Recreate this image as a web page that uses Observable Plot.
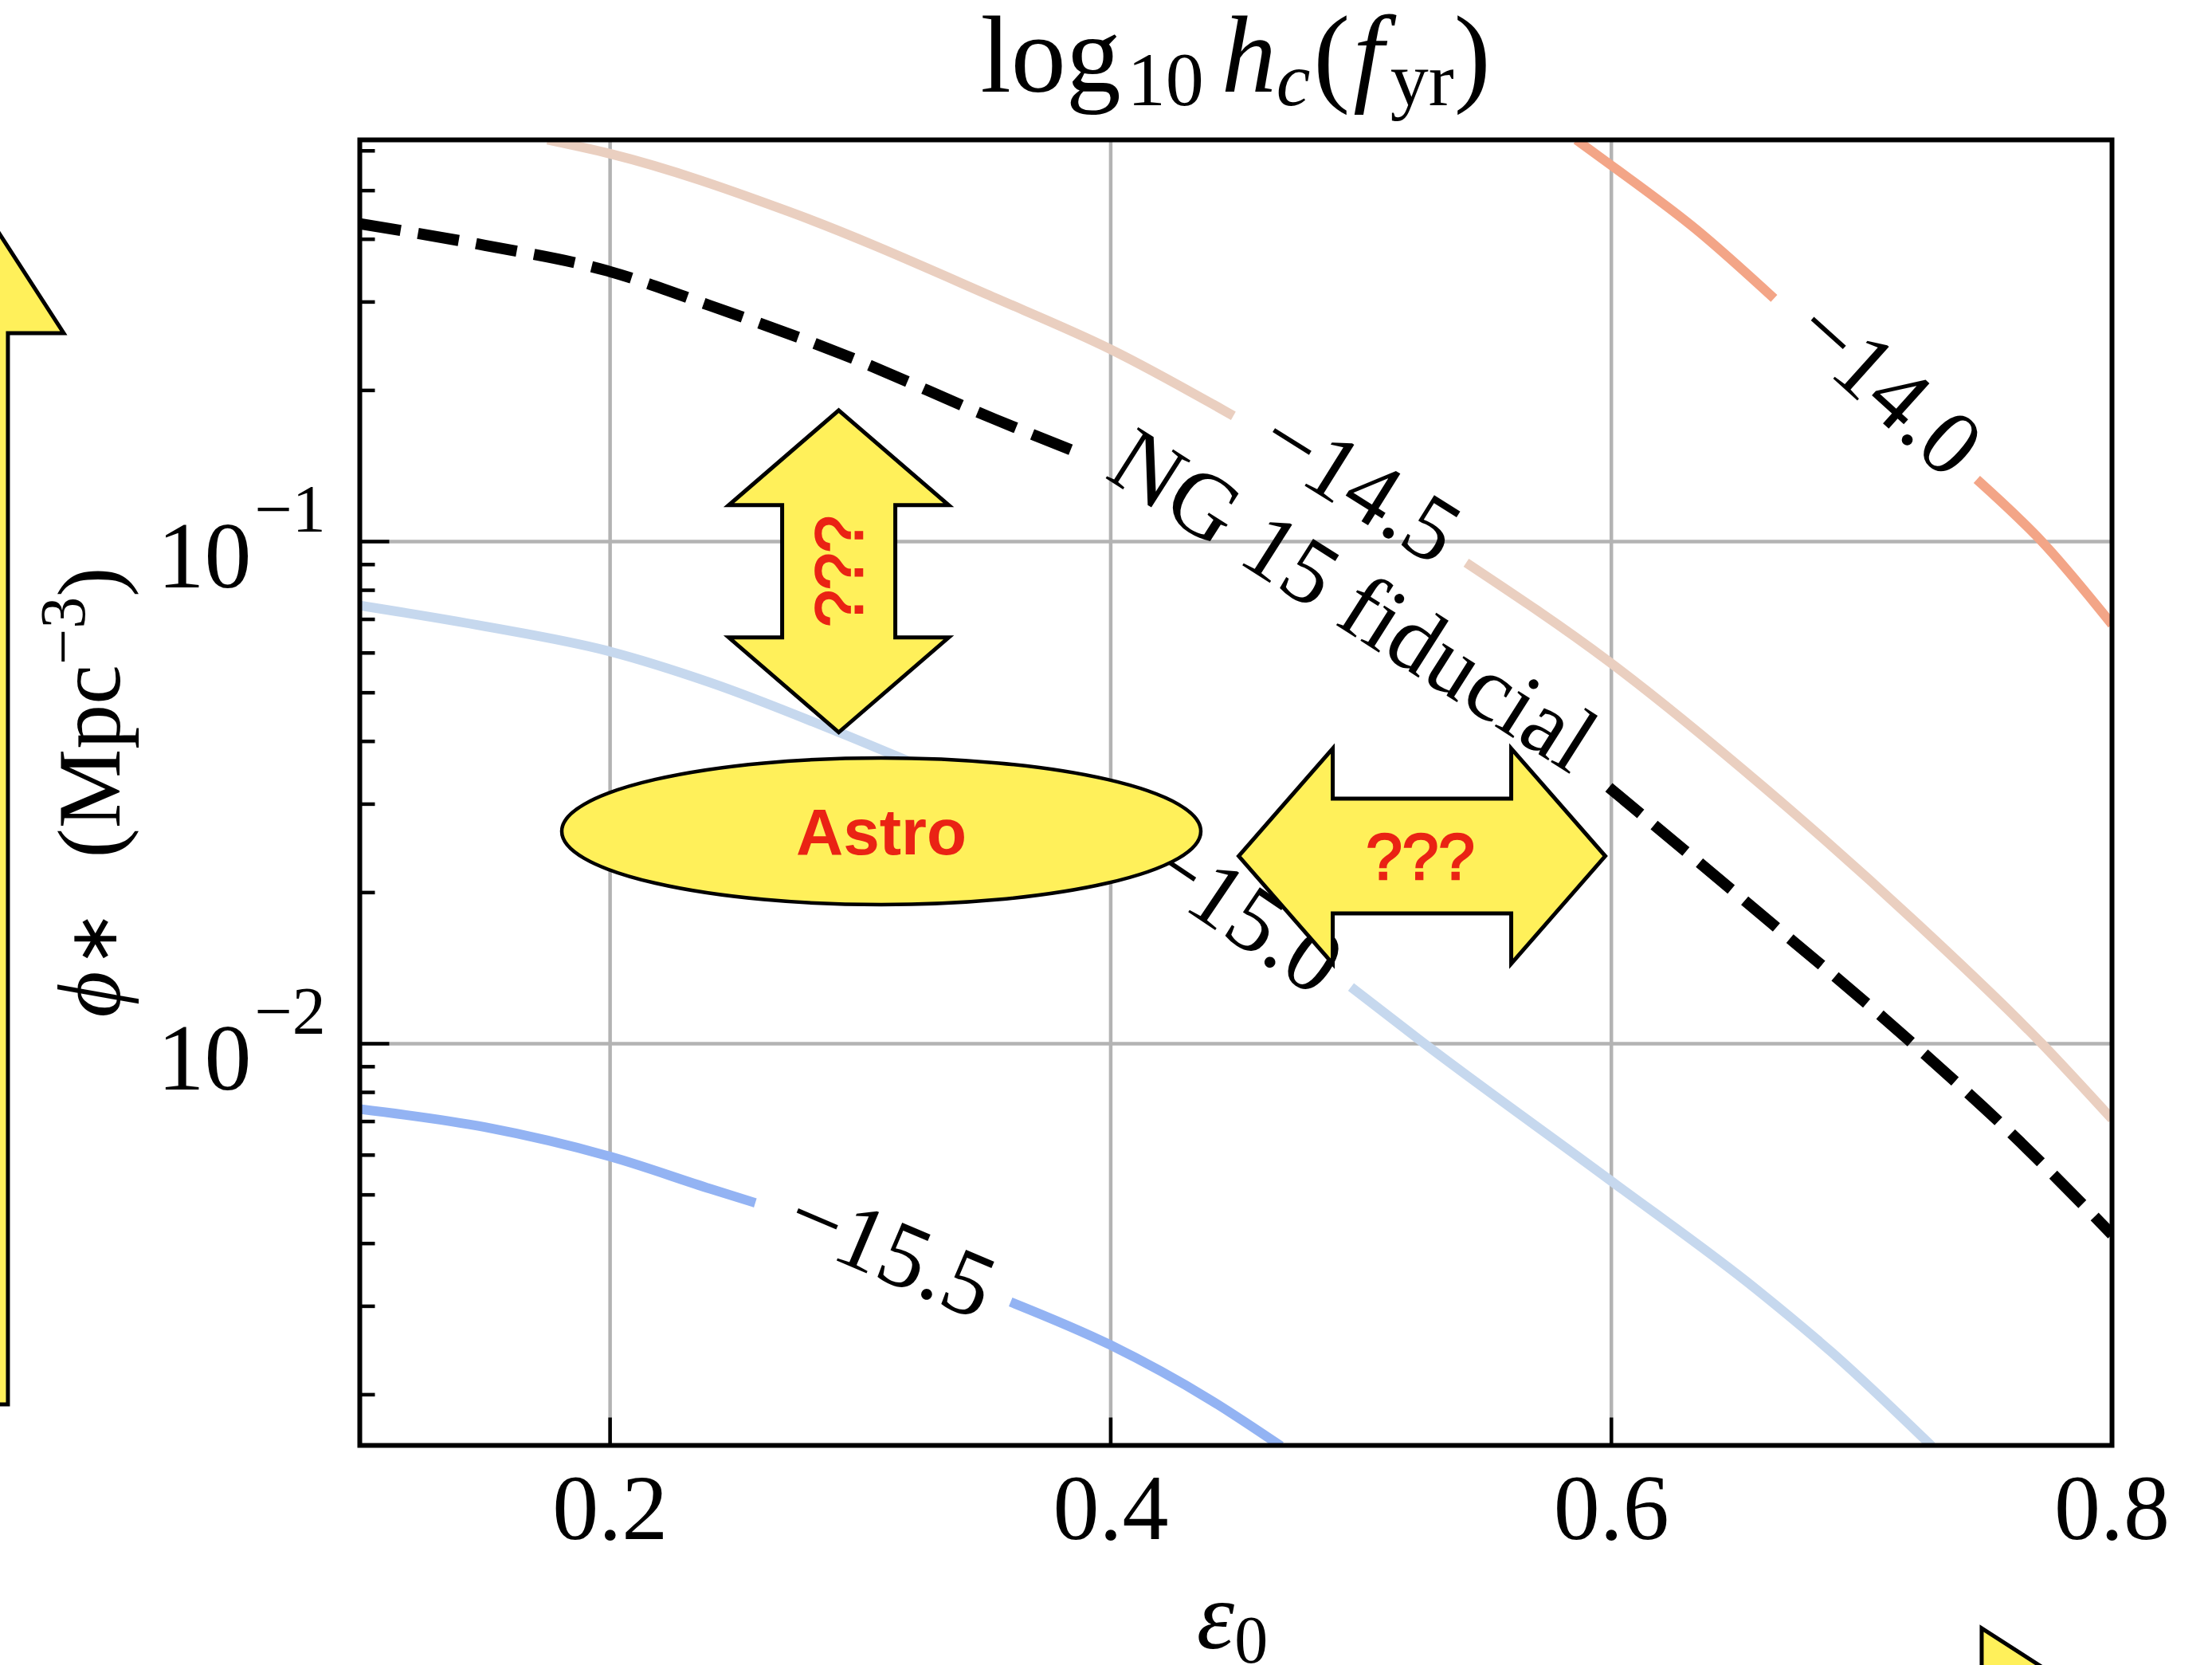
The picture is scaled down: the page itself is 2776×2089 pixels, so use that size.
<!DOCTYPE html>
<html><head><meta charset="utf-8">
<script src="https://cdn.jsdelivr.net/npm/d3@7"></script>
<script src="https://cdn.jsdelivr.net/npm/@observablehq/plot@0.6"></script>
<style>
html,body{margin:0;padding:0;background:#fff;}
#chart svg{display:block;}
</style></head><body><div id="chart"></div>
<script>
// ---------- data (ε0, φ*) ----------
// contour −14.0 (before / after its label)
const c140_epsA = [0.586, 0.599, 0.634, 0.665];
const c140_phiA = [0.631, 0.566, 0.418, 0.305];
const c140_epsB = [0.746, 0.772, 0.800];
const c140_phiB = [0.133, 0.100, 0.0684];
// contour −14.5
const c145_epsA = [0.175, 0.200, 0.272, 0.354, 0.400, 0.449];
const c145_phiA = [0.631, 0.592, 0.453, 0.3055, 0.2415, 0.178];
const c145_epsB = [0.542, 0.599, 0.661, 0.722, 0.772, 0.800];
const c145_phiB = [0.0908, 0.0577, 0.0324, 0.01738, 0.0100, 0.00708];
// contour −15.0
const c150_epsA = [0.100, 0.150, 0.200, 0.240, 0.292, 0.330, 0.370, 0.400, 0.421];
const c150_phiA = [0.0746, 0.0678, 0.0604, 0.0524, 0.0416, 0.0347, 0.0288, 0.0257, 0.0232];
const c150_epsB = [0.496, 0.524, 0.599, 0.658, 0.688, 0.728];
const c150_phiB = [0.01297, 0.01012, 0.00537, 0.00324, 0.00243, 0.00158];
// contour −15.5
const c155_epsA = [0.100, 0.150, 0.200, 0.240, 0.258];
const c155_phiA = [0.00741, 0.00682, 0.00596, 0.00514, 0.00482];
const c155_epsB = [0.360, 0.400, 0.440, 0.468];
const c155_phiB = [0.00306, 0.00251, 0.00195, 0.00158];
// NG 15 fiducial (dashed)
const ng_epsA = [0.100, 0.150, 0.199, 0.240, 0.292, 0.354, 0.388];
const ng_phiA = [0.4295, 0.389, 0.346, 0.295, 0.237, 0.175, 0.1496];
const ng_epsB = [0.599, 0.658, 0.7205, 0.760, 0.800];
const ng_phiB = [0.0324, 0.01841, 0.0100, 0.00661, 0.00417];

// contour labels
const labelTexts = ["−14.0", "−14.5", "−15.0", "−15.5", "NG 15 fiducial"];
const labelEps   = [0.7104, 0.4996, 0.4530, 0.3123, 0.4968];
const labelPhi   = [0.2023, 0.1294, 0.01816, 0.003855, 0.0762];
const labelAngle = [42, 32, 34, 23, 32.5];

// ticks
const xTickValues = [0.2, 0.4, 0.6, 0.8];
const xTickLabels = ["0.2", "0.4", "0.6", "0.8"];
const yMajorValues = [0.1, 0.01];
const yMajorExponents = ["−1", "−2"];

// annotation anchors (ε0, φ*)
const noteVArrow = [0.2915, 0.0871];
const noteEllipse = [0.3085, 0.02644];
const noteHArrow = [0.5245, 0.0236];
const noteLeftArrow = [-0.0404, 0.00191];
const noteCornerArrow = [0.7481, 0.000684];

// ---------- build tables ----------
function seg(level, part, eps, phi) { return eps.map((e, i) => ({level, seg: level + part, eps: e, phi: phi[i]})); }
const rows140 = [...seg("-14.0", "A", c140_epsA, c140_phiA), ...seg("-14.0", "B", c140_epsB, c140_phiB)];
const rows145 = [...seg("-14.5", "A", c145_epsA, c145_phiA), ...seg("-14.5", "B", c145_epsB, c145_phiB)];
const rows150 = [...seg("-15.0", "A", c150_epsA, c150_phiA), ...seg("-15.0", "B", c150_epsB, c150_phiB)];
const rows155 = [...seg("-15.5", "A", c155_epsA, c155_phiA), ...seg("-15.5", "B", c155_epsB, c155_phiB)];
const rowsNG  = [...seg("NG", "A", ng_epsA, ng_phiA), ...seg("NG", "B", ng_epsB, ng_phiB)];
const labels = labelTexts.map((t, i) => ({text: t, eps: labelEps[i], phi: labelPhi[i], angle: labelAngle[i]}));

const yDomain = [Math.pow(10, -2.8), Math.pow(10, -0.2)];
const xDomain = [0.1, 0.8];
const yMinor = [];
for (let k = -3; k <= -1; k++) for (let m = 2; m <= 9; m++) {
  const v = m * Math.pow(10, k);
  if (v > yDomain[0] && v < yDomain[1]) yMinor.push(v);
}
const yMajor = yMajorValues.map((v, i) => ({v, exp: yMajorExponents[i]}));
const xTicks = xTickValues.map((v, i) => ({v, label: xTickLabels[i]}));

const hTick = len => ({draw(ctx) { ctx.moveTo(0, 0); ctx.lineTo(len, 0); }});
const vTick = len => ({draw(ctx) { ctx.moveTo(0, 0); ctx.lineTo(0, -len); }});

const SERIF = "Liberation Serif, Times New Roman, serif";
const SANS = "Liberation Sans, Arial, sans-serif";
const GRID = "#b3b3b3";
const lineOpts = {x: "eps", y: "phi", z: "seg", curve: "monotone-x", strokeLinecap: "butt", clip: true};

const chart = Plot.plot({
  width: 2776, height: 2089,
  marginLeft: 451, marginRight: 126, marginTop: 175, marginBottom: 276,
  x: {domain: xDomain, axis: null},
  y: {type: "log", domain: yDomain, axis: null},
  style: {background: "white", fontFamily: SERIF},
  marks: [
    Plot.ruleX(xTickValues.filter(v => v < xDomain[1]), {stroke: GRID, strokeWidth: 4.5}),
    Plot.ruleY(yMajorValues, {stroke: GRID, strokeWidth: 4.5}),
    Plot.line(rows145, {...lineOpts, stroke: "#eacfc0", strokeWidth: 12}),
    Plot.line(rows140, {...lineOpts, stroke: "#f3a587", strokeWidth: 12}),
    Plot.line(rows150, {...lineOpts, stroke: "#c6d8ee", strokeWidth: 12}),
    Plot.line(rows155, {...lineOpts, stroke: "#93b3f3", strokeWidth: 12}),
    Plot.line(rowsNG, {...lineOpts, stroke: "black", strokeWidth: 14, strokeDasharray: "52 22"}),
    Plot.text(labels, {x: "eps", y: "phi", text: "text", rotate: "angle", fontSize: 116, fontFamily: SERIF, fill: "black"}),
    Plot.frame({stroke: "black", strokeWidth: 6}),
    // inward ticks
    Plot.dot(yMinor, {x: () => xDomain[0], y: d => d, symbol: hTick(19), r: 5, fill: "none", stroke: "black", strokeWidth: 4.5}),
    Plot.dot(yMajorValues, {x: () => xDomain[0], y: d => d, symbol: hTick(37), r: 5, fill: "none", stroke: "black", strokeWidth: 4.5}),
    Plot.dot(xTickValues.filter(v => v < xDomain[1]), {x: d => d, y: () => yDomain[0], symbol: vTick(35), r: 5, fill: "none", stroke: "black", strokeWidth: 4.5}),
    // tick labels
    Plot.text(xTicks, {x: "v", frameAnchor: "bottom", text: "label", dy: 117, lineAnchor: "bottom", fontSize: 116, fontFamily: SERIF, fill: "black"}),
    Plot.text(yMajor, {y: "v", frameAnchor: "left", text: () => "10", dx: -136, dy: 57, textAnchor: "end", lineAnchor: "bottom", fontSize: 118, fontFamily: SERIF, fill: "black"}),
    Plot.text(yMajor, {y: "v", frameAnchor: "left", text: "exp", dx: -132, dy: -13, textAnchor: "start", lineAnchor: "bottom", fontSize: 84, fontFamily: SERIF, fill: "black"})
  ]
});
document.getElementById("chart").appendChild(chart);

// ---------- title and axis labels ----------
const svg = d3.select(chart);
const sx = chart.scale("x"), sy = chart.scale("y");
const xr = sx.range, yr = sy.range;
const xMid = (xr[0] + xr[1]) / 2, yMid = (yr[0] + yr[1]) / 2;

// title pieces laid out with Times-compatible advance widths (em units)
const ADV = {"l": .278, "o": .5, "g": .5, "1": .5, "0": .5, "h": .5, "c": .444, "(": .333, ")": .333, "f": .278, "y": .5, "r": .333};
const width = (s, size) => [...s].reduce((a, ch) => a + (ADV[ch] || .5) * size, 0);
function pieces(parts, x, y, size) {
  const total = parts.reduce((a, p) => a + (p.dx || 0) + width(p.t, p.s || size), 0);
  let cx = x - total / 2;
  parts.forEach(p => {
    cx += p.dx || 0;
    const t = svg.append("text").attr("x", cx).attr("y", y + (p.dy || 0)).attr("text-anchor", "start")
      .attr("font-family", SERIF).attr("font-size", p.s || size).attr("fill", "black").text(p.t);
    if (p.i) t.attr("font-style", "italic");
    cx += width(p.t, p.s || size);
  });
}
pieces([
  {t: "log"}, {t: "10", s: 96, dy: 17, dx: 8}, {t: "h", i: 1, dx: 22}, {t: "c", i: 1, s: 96, dy: 17},
  {t: "(", dx: 4}, {t: "f", i: 1, dx: 4}, {t: "yr", s: 96, dy: 17, dx: 8}, {t: ")"}
], xMid, 115, 138);

function rich(parent, parts) {
  parts.forEach(p => {
    const t = parent.append("tspan").text(p.t);
    if (p.s) t.attr("font-size", p.s);
    if (p.i) t.attr("font-style", "italic");
    if (p.dy) t.attr("dy", p.dy);
    if (p.dx) t.attr("dx", p.dx);
  });
}
const xlab = svg.append("text").attr("x", xMid - 4).attr("y", 2068).attr("text-anchor", "middle")
  .attr("font-family", SERIF).attr("font-size", 120).attr("fill", "black");
rich(xlab, [{t: "ε", i: 1}, {t: "0", s: 84, dy: 18}]);

const ylab = svg.append("text").attr("transform", `translate(150,${yMid}) rotate(-90)`).attr("text-anchor", "middle")
  .attr("font-family", SERIF).attr("font-size", 112).attr("fill", "black");
rich(ylab, [{t: "ϕ", i: 1}, {t: "∗", s: 84, dy: -4, dx: 6}, {t: "  (Mpc", dy: 4, dx: 10}, {t: "−3", s: 80, dy: -44}, {t: ")", dy: 44}]);

// ---------- yellow annotations (anchored through the scales) ----------
const YEL = "#fff05a", RED = "#ea2314";
const g = svg.append("g");
const P = ([e, p]) => [sx.apply(e), sy.apply(p)];
function poly([cx, cy], pts) {
  g.append("polygon").attr("points", pts.map(([a, b]) => `${cx + a},${cy + b}`).join(" "))
    .attr("fill", YEL).attr("stroke", "black").attr("stroke-width", 5).attr("stroke-linejoin", "miter");
}
function redText([cx, cy], str, size, weight, rot, halo) {
  const t = g.append("text").attr("transform", `translate(${cx},${cy}) rotate(${rot || 0})`)
    .attr("text-anchor", "middle").attr("dy", "0.355em")
    .attr("font-family", SANS).attr("font-size", size)
    .attr("font-weight", weight).attr("fill", RED).text(str);
  if (halo) t.attr("stroke", RED).attr("stroke-width", halo);
}
// left big arrow (mostly off canvas)
poly(P(noteLeftArrow), [[-300, 0], [0, 0], [0, -1344], [70, -1344], [-300, -1916]]);
// bottom-right arrow head (mostly off canvas)
poly(P(noteCornerArrow), [[0, 0], [400, 257], [0, 515]]);
// vertical double arrow
const va = P(noteVArrow);
poly(va, [[0, -202], [138, -83], [71, -83], [71, 83], [138, 83], [0, 202], [-138, 83], [-71, 83], [-71, -83], [-138, -83]]);
redText(va, "???", 84, "normal", -90, 2.5);
// ellipse
const el = P(noteEllipse);
g.append("ellipse").attr("cx", el[0]).attr("cy", el[1]).attr("rx", 401).attr("ry", 92)
  .attr("fill", YEL).attr("stroke", "black").attr("stroke-width", 4.5);
redText(el, "Astro", 82, "bold", 0, 0);
// horizontal double arrow
const ha = P(noteHArrow);
poly(ha, [[-230, 0], [-112, -135], [-112, -72], [112, -72], [112, -135], [230, 0], [112, 135], [112, 72], [-112, 72], [-112, 135]]);
redText([ha[0] - 2, ha[1]], "???", 82, "normal", 0, 2.5);
</script>
</body></html>
